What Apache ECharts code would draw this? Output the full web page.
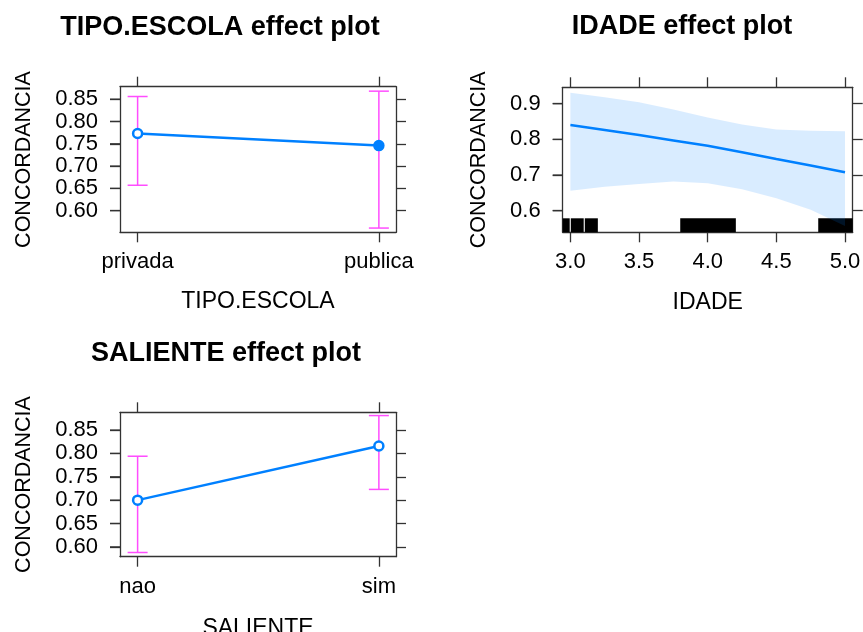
<!DOCTYPE html>
<html><head><meta charset="utf-8">
<script src="https://cdn.jsdelivr.net/npm/echarts@6/dist/echarts.min.js"></script>
<style>html,body{margin:0;padding:0;background:#fff}#c{width:863px;height:632px}</style>
</head><body><div id="c"></div>
<script>
// ---- data ----
const tipoCategories = ['privada', 'publica'];
const tipoFit = [0.773, 0.746];
const tipoLower = [0.657, 0.561];
const tipoUpper = [0.856, 0.868];
const tipoYTicks = [0.60, 0.65, 0.70, 0.75, 0.80, 0.85];

const idadeValues = [3.0, 3.25, 3.5, 3.75, 4.0, 4.25, 4.5, 4.75, 5.0];
const idadeFit   = [0.840, 0.826, 0.812, 0.797, 0.782, 0.764, 0.745, 0.727, 0.708];
const idadeUpper = [0.931, 0.918, 0.904, 0.884, 0.861, 0.842, 0.828, 0.824, 0.823];
const idadeLower = [0.656, 0.667, 0.675, 0.682, 0.677, 0.660, 0.635, 0.603, 0.557];
const idadeRug = [[2.90, 2.995], [3.003, 3.097], [3.105, 3.20], [3.80, 4.205], [4.805, 5.20]];
const idadeXTicks = [3.0, 3.5, 4.0, 4.5, 5.0];
const idadeYTicks = [0.6, 0.7, 0.8, 0.9];

const salienteCategories = ['nao', 'sim'];
const salienteFit = [0.700, 0.816];
const salienteLower = [0.588, 0.723];
const salienteUpper = [0.794, 0.881];
const salienteYTicks = [0.60, 0.65, 0.70, 0.75, 0.80, 0.85];

// ---- styling ----
const FONT = 'Liberation Sans';
const BOX = '#333333';
const BLUE = '#0080ff';
const PINK = '#ff4dff';

function axisPair(kind, gridIndex, min, max, ticks, fmt, name, nameGap, nameSize) {
  function base() {
    return {
      type: 'value', gridIndex: gridIndex, min: min, max: max,
      axisLine: { show: true, onZero: false, lineStyle: { color: BOX, width: 1.3 } },
      axisTick: { show: true, inside: false, length: 10, customValues: ticks.slice(), lineStyle: { color: BOX, width: 1.3 } },
      splitLine: { show: false }
    };
  }
  const main = base();
  main.position = kind === 'x' ? 'bottom' : 'left';
  main.axisLabel = { show: true, customValues: ticks.slice(), formatter: fmt, margin: 22,
    hideOverlap: false, showMinLabel: true, showMaxLabel: true,
    fontFamily: FONT, fontSize: 22, lineHeight: 16, color: '#000' };
  main.name = name;
  main.nameLocation = 'middle';
  main.nameGap = nameGap;
  main.nameMoveOverlap = false;
  main.nameTextStyle = { fontFamily: FONT, fontSize: nameSize, color: '#000' };
  const mirror = base();
  mirror.position = kind === 'x' ? 'top' : 'right';
  mirror.axisLabel = { show: false };
  return [main, mirror];
}

const catFmt = cats => v => cats[Math.round(v) - 1] || '';

const xAxes = [].concat(
  axisPair('x', 0, 0.927, 2.071, [1, 2], catFmt(tipoCategories), 'TIPO.ESCOLA', 58, 23),
  axisPair('x', 1, 2.944, 5.056, idadeXTicks, v => v.toFixed(1), 'IDADE', 59, 23),
  axisPair('x', 2, 0.927, 2.071, [1, 2], catFmt(salienteCategories), 'SALIENTE', 60, 23)
);
const yAxes = [].concat(
  axisPair('y', 0, 0.5515, 0.878, tipoYTicks, v => v.toFixed(2), 'CONCORDANCIA', 85, 21.5),
  axisPair('y', 1, 0.5395, 0.946, idadeYTicks, v => v.toFixed(1), 'CONCORDANCIA', 73, 21.5),
  axisPair('y', 2, 0.579, 0.888, salienteYTicks, v => v.toFixed(2), 'CONCORDANCIA', 85, 21.5)
);

// left-side tick marks, placed through the y scale of each panel
function leftTickSeries(axisIdx, ticks, xRef) {
  return {
    type: 'custom', xAxisIndex: axisIdx, yAxisIndex: axisIdx, z: 5, clip: false, silent: true,
    encode: { x: 0, y: 1 },
    data: ticks.map(v => [xRef, v]),
    renderItem: function (params, api) {
      const cs = params.coordSys;
      const p = api.coord([api.value(0), api.value(1)]);
      return { type: 'line', shape: { x1: cs.x - 10, y1: p[1], x2: cs.x, y2: p[1] },
        style: { stroke: BOX, lineWidth: 1.3 } };
    }
  };
}

function errorBarRender(params, api) {
  const x = api.value(0), lo = api.value(1), hi = api.value(2);
  const pLo = api.coord([x, lo]), pHi = api.coord([x, hi]);
  const cap = 10;
  const style = { stroke: PINK, lineWidth: 1.5, fill: null };
  return { type: 'group', children: [
    { type: 'line', shape: { x1: pLo[0], y1: pLo[1], x2: pHi[0], y2: pHi[1] }, style: style },
    { type: 'line', shape: { x1: pLo[0] - cap, y1: pLo[1], x2: pLo[0] + cap, y2: pLo[1] }, style: style },
    { type: 'line', shape: { x1: pHi[0] - cap, y1: pHi[1], x2: pHi[0] + cap, y2: pHi[1] }, style: style }
  ]};
}

function effectSeries(idx, fit, lower, upper, filledIdx) {
  return [
    {
      type: 'custom', xAxisIndex: idx * 2, yAxisIndex: idx * 2, z: 2,
      renderItem: errorBarRender, encode: { x: 0, y: [1, 2] },
      data: fit.map((v, i) => [i + 1, lower[i], upper[i]])
    },
    {
      type: 'line', xAxisIndex: idx * 2, yAxisIndex: idx * 2, z: 3,
      symbol: 'circle', symbolSize: 9, showSymbol: true,
      lineStyle: { color: BLUE, width: 2.5 },
      itemStyle: { color: '#ffffff', borderColor: BLUE, borderWidth: 2.5 },
      data: fit.map((v, i) => ({ value: [i + 1, v],
        itemStyle: filledIdx.indexOf(i) >= 0 ? { color: BLUE } : undefined }))
    }
  ];
}

const series = [].concat(
  effectSeries(0, tipoFit, tipoLower, tipoUpper, [1]),
  effectSeries(2, salienteFit, salienteLower, salienteUpper, []),
  [
    {
      type: 'custom', xAxisIndex: 2, yAxisIndex: 2, z: 1,
      encode: { x: [0, 1] },
      data: idadeRug,
      renderItem: function (params, api) {
        const cs = params.coordSys;
        const a = api.coord([api.value(0), 0.7]);
        const b = api.coord([api.value(1), 0.7]);
        const h = 14;
        const shape = echarts.graphic.clipRectByRect(
          { x: a[0], y: cs.y + cs.height - h, width: b[0] - a[0], height: h },
          { x: cs.x, y: cs.y, width: cs.width, height: cs.height });
        return shape ? { type: 'rect', shape: shape, style: { fill: '#000' } } : null;
      }
    },
    {
      type: 'custom', xAxisIndex: 2, yAxisIndex: 2, z: 2,
      data: [[idadeValues[0], idadeFit[0]]],
      encode: { x: 0, y: 1 },
      renderItem: function (params, api) {
        const pts = [];
        idadeValues.forEach((x, i) => pts.push(api.coord([x, idadeUpper[i]])));
        for (let i = idadeValues.length - 1; i >= 0; i--) pts.push(api.coord([idadeValues[i], idadeLower[i]]));
        return { type: 'polygon', shape: { points: pts }, style: { fill: 'rgba(0,128,255,0.15)' } };
      }
    },
    {
      type: 'line', xAxisIndex: 2, yAxisIndex: 2, z: 3,
      showSymbol: false, symbol: 'none',
      lineStyle: { color: BLUE, width: 2.5 },
      data: idadeValues.map((x, i) => [x, idadeFit[i]])
    },
    leftTickSeries(0, tipoYTicks, 1.5),
    leftTickSeries(2, idadeYTicks, 4.0),
    leftTickSeries(4, salienteYTicks, 1.5)
  ]
);

const titleStyle = { fontFamily: FONT, fontSize: 27, fontWeight: 'bold', color: '#000' };
const option = {
  animation: false,
  backgroundColor: '#ffffff',
  title: [
    { text: 'TIPO.ESCOLA effect plot', left: 220, top: 14, textAlign: 'center', padding: 0, textStyle: titleStyle },
    { text: 'IDADE effect plot', left: 682, top: 13, textAlign: 'center', padding: 0, textStyle: titleStyle },
    { text: 'SALIENTE effect plot', left: 226, top: 340, textAlign: 'center', padding: 0, textStyle: titleStyle }
  ],
  grid: [
    { left: 120, top: 86.7, width: 276, height: 145.6, outerBoundsMode: 'none', containLabel: false },
    { left: 562.7, top: 87.3, width: 290, height: 145, outerBoundsMode: 'none', containLabel: false },
    { left: 120, top: 412.3, width: 276, height: 144.4, outerBoundsMode: 'none', containLabel: false }
  ],
  xAxis: xAxes,
  yAxis: yAxes,
  series: series
};

const chart = echarts.init(document.getElementById('c'), null, { renderer: 'canvas' });
chart.setOption(option);
</script>
</body></html>
